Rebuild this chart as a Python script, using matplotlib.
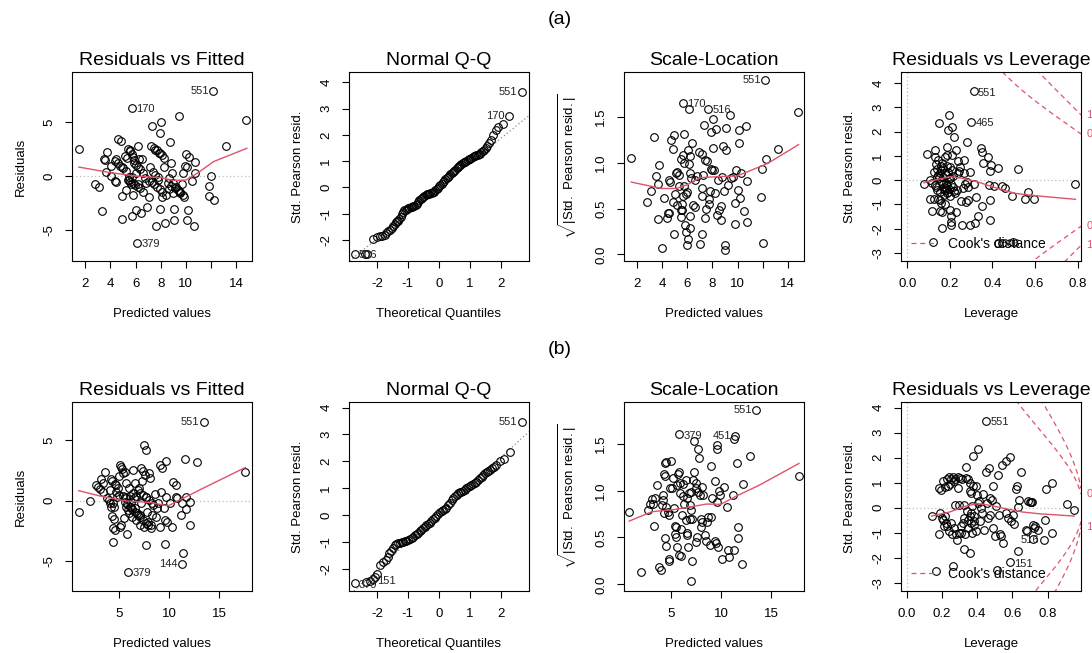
import numpy as np
import matplotlib
matplotlib.use("Agg")
from matplotlib import pyplot as plt
from matplotlib.lines import Line2D

plt.rcParams['font.family'] = ['Liberation Sans', 'DejaVu Sans']
plt.rcParams['mathtext.fontset'] = 'custom'
plt.rcParams['mathtext.rm'] = 'Liberation Sans'

RED = '#DF536B'
GREY = '#BEBEBE'

# ---------------- model (a) ----------------
fit_a_pts = [
    (1.47, 2.53), (2.74, -0.71), (3.09, -1.05), (3.30, -3.27), (3.49, 1.54), (3.56, 1.48),
    (3.72, 2.25), (3.67, 0.37), (4.07, 0.90), (4.02, 0.00), (4.39, -0.46), (4.47, 1.54),
    (4.47, -0.52), (4.60, 3.40), (4.84, 3.21), (4.92, 0.80), (4.89, -1.85), (4.92, -3.92),
    (5.13, 1.85), (5.29, 1.64), (5.26, -1.30), (5.40, 2.50), (5.53, 2.44), (5.47, -0.37),
    (5.61, -0.74), (5.71, -3.70), (5.77, -1.76), (5.69, 6.27), (5.85, 1.48), (5.90, 1.23),
    (6.00, -3.15), (6.11, -6.14), (6.19, 2.78), (6.22, -0.74), (6.38, 0.68), (6.45, -3.40),
    (6.59, -1.45), (6.53, 1.54), (6.90, -2.84), (7.04, -0.43), (7.17, 0.86), (7.04, -1.91),
    (7.33, 4.63), (7.22, 2.78), (7.43, 2.56), (7.57, 2.41), (7.62, -4.63), (7.75, -0.06),
    (7.84, 2.10), (7.97, 4.01), (8.02, 4.97), (7.97, -3.06), (8.13, -1.91), (8.23, 0.80),
    (8.29, 1.64), (8.34, -4.32), (8.55, -0.68), (8.63, -0.22), (8.74, 3.18), (8.84, 1.17),
    (8.90, 0.31), (8.98, -0.68), (9.06, -3.02), (9.08, -4.07), (8.95, -1.60), (9.24, -1.05),
    (9.43, 5.56), (9.56, -1.45), (9.72, -0.74), (9.77, 0.25), (9.98, 2.00), (9.96, 0.93),
    (10.09, 0.80), (10.14, -3.15), (10.09, -4.07), (10.22, 1.73), (10.46, -0.43),
    (10.62, -4.63), (10.70, 1.27), (10.70, 0.31), (11.84, -0.90), (11.87, -1.85),
    (12.03, 0.00), (12.24, -2.22), (12.16, 7.81), (13.19, 2.81), (14.81, 5.19),
    (5.40, -0.37), (5.58, -0.52), (5.79, -0.68), (5.98, -0.83), (6.16, -0.99), (6.38, -1.14),
    (5.45, -0.06), (5.71, -0.12), (6.00, 0.25), (7.30, -0.52), (7.49, -0.74), (7.70, -0.99),
    (7.92, -1.23), (8.10, -1.45), (9.16, -1.14), (9.35, -1.30), (9.56, -1.54), (9.77, -1.76),
    (4.39, 1.42), (4.57, 1.17), (4.79, 0.93), (5.00, 0.71), (5.21, 0.49), (7.70, 2.41),
    (7.92, 2.16), (8.13, 1.94),
    (5.55, 2.30), (5.68, 2.05), (5.80, 1.80), (6.05, 1.05), (6.20, 0.85), (6.30, 1.60),
    (6.60, 0.30), (6.75, -0.20), (6.85, -0.60), (7.40, 0.35), (7.55, 0.10), (7.80, -0.35),
    (8.40, -1.75), (8.65, -1.20), (8.80, -0.90), (9.85, -1.90), (9.45, -1.35),
]
fit_a_smooth_x = [1.47, 4.0, 6.0, 8.0, 9.0, 10.0, 10.9, 12.2, 14.85]
fit_a_smooth_y = [0.83, 0.31, 0.0, -0.15, -0.40, -0.37, 0.25, 1.33, 2.56]
fit_a_ids = [('551', 12.16, 7.81, 'left'), ('170', 5.69, 6.27, 'right'), ('379', 6.11, -6.14, 'right')]

qq_a_pts = [
    (-2.71, -2.53), (-2.39, -2.53), (-2.31, -2.53), (-2.12, -1.98), (-1.99, -1.90), (-1.90, -1.87),
    (-1.82, -1.85), (-1.75, -1.80), (-1.69, -1.73), (-1.63, -1.68), (-1.58, -1.62), (-1.52, -1.56),
    (-1.47, -1.48), (-1.43, -1.38), (-1.39, -1.31), (-1.35, -1.29), (-1.31, -1.27), (-1.27, -1.22),
    (-1.23, -1.12), (-1.19, -1.02), (-1.15, -0.93), (-1.11, -0.88), (-1.07, -0.86), (-1.03, -0.83),
    (-0.99, -0.80), (-0.95, -0.78), (-0.91, -0.76), (-0.87, -0.75), (-0.83, -0.73), (-0.79, -0.70),
    (-0.75, -0.67), (-0.71, -0.62), (-0.67, -0.56), (-0.63, -0.48), (-0.59, -0.43), (-0.55, -0.39),
    (-0.51, -0.35), (-0.47, -0.32), (-0.43, -0.30), (-0.39, -0.27), (-0.35, -0.25), (-0.31, -0.24),
    (-0.27, -0.22), (-0.23, -0.21), (-0.19, -0.19), (-0.15, -0.16), (-0.11, -0.12), (-0.07, -0.07),
    (-0.03, -0.01), (0.01, 0.04), (0.05, 0.08), (0.09, 0.14), (0.13, 0.20), (0.17, 0.25),
    (0.21, 0.30), (0.25, 0.35), (0.29, 0.40), (0.33, 0.45), (0.37, 0.50), (0.41, 0.55),
    (0.45, 0.59), (0.49, 0.63), (0.53, 0.68), (0.57, 0.72), (0.61, 0.77), (0.65, 0.81),
    (0.69, 0.85), (0.73, 0.88), (0.77, 0.91), (0.81, 0.95), (0.85, 0.98), (0.89, 1.01),
    (0.93, 1.04), (0.97, 1.07), (1.01, 1.09), (1.05, 1.12), (1.09, 1.15), (1.13, 1.18),
    (1.17, 1.20), (1.21, 1.22), (1.25, 1.24), (1.29, 1.26), (1.33, 1.29), (1.37, 1.33),
    (1.42, 1.37), (1.47, 1.42), (1.52, 1.50), (1.57, 1.57), (1.63, 1.70), (1.68, 1.82),
    (1.75, 2.00), (1.84, 2.19), (1.92, 2.32), (2.08, 2.42), (2.27, 2.73), (2.67, 3.65),
]
qq_a_line = (-0.05, 0.957)
qq_a_ids = [('551', 2.67, 3.65, 'left'), ('170', 2.27, 2.73, 'left'), ('506', -2.71, -2.53, 'right')]

sl_a_pts = [
    (1.52, 1.05), (2.77, 0.574), (3.09, 0.69), (3.32, 1.28), (3.48, 0.856), (3.64, 0.765),
    (3.67, 0.39), (3.77, 0.98), (4.01, 0.073), (4.15, 0.615), (4.38, 0.40), (4.46, 0.457),
    (4.54, 0.457), (4.52, 0.81), (4.60, 0.79), (4.65, 1.25), (4.81, 1.15), (4.91, 1.31),
    (4.89, 0.227), (4.99, 0.66), (5.07, 0.885), (5.20, 0.896), (4.81, 0.567), (5.20, 0.54),
    (5.34, 0.75), (5.34, 0.87), (5.47, 1.04), (5.47, 0.41), (5.52, 0.48), (5.55, 0.49),
    (5.65, 1.09), (5.60, 0.545), (5.68, 0.637), (5.70, 1.00), (5.73, 1.32), (5.65, 1.66),
    (5.73, 0.75), (5.78, 0.32), (5.86, 0.245), (5.92, 0.655), (5.97, 0.68), (5.97, 0.106),
    (6.05, 0.165), (6.05, 1.14), (6.10, 1.59), (6.13, 0.99), (6.18, 0.42), (6.18, 0.29),
    (6.18, 1.07), (6.23, 0.885), (6.30, 0.84), (6.38, 1.22), (6.45, 0.54), (6.58, 0.81),
    (6.58, 0.52), (6.77, 0.856), (6.90, 1.12), (7.03, 0.11), (7.14, 0.227), (7.14, 0.72),
    (7.19, 1.10), (7.25, 0.867), (7.19, 0.637), (7.38, 0.40), (7.33, 1.415), (7.43, 1.03),
    (7.48, 0.50), (7.56, 1.017), (7.64, 1.59), (7.70, 0.61), (7.70, 0.545), (7.80, 0.69),
    (7.91, 0.93), (7.88, 1.34), (8.01, 1.475), (8.01, 1.16), (7.99, 0.92), (8.09, 0.92),
    (8.22, 0.666), (8.30, 1.376), (8.36, 0.435), (8.44, 0.81), (8.52, 0.48), (8.68, 0.53),
    (8.70, 0.373), (8.78, 0.85), (8.83, 1.18), (8.91, 0.69), (8.97, 0.10), (9.02, 0.05),
    (9.10, 1.38), (9.10, 1.14), (9.23, 0.757), (9.42, 1.526), (9.44, 0.838), (9.63, 0.849),
    (9.76, 0.33), (9.76, 0.556), (9.90, 0.92), (10.03, 0.70), (10.08, 1.36), (10.10, 1.22),
    (10.16, 0.62), (10.24, 0.885), (10.50, 0.47), (10.64, 1.405), (10.72, 0.80), (10.72, 0.35),
    (11.88, 0.626), (11.91, 0.937), (12.01, 0.128), (12.25, 1.043), (12.20, 1.91),
    (13.20, 1.15), (14.82, 1.555),
]
sl_a_smooth_x = [1.52, 3.93, 5.13, 6.05, 6.98, 8.44, 9.90, 10.82, 12.41, 14.87]
sl_a_smooth_y = [0.79, 0.72, 0.72, 0.765, 0.838, 0.85, 0.856, 0.904, 0.995, 1.20]
sl_a_ids = [('551', 12.20, 1.91, 'left'), ('170', 5.65, 1.66, 'right'), ('516', 7.64, 1.59, 'right')]

lev_a_pts = [
    (0.078, -0.17), (0.091, 1.07), (0.104, -0.79), (0.107, 0.00), (0.115, -0.11), (0.118, -1.28),
    (0.122, -2.55), (0.125, -0.76), (0.130, 1.24), (0.132, 0.96), (0.135, -0.28), (0.138, 0.11),
    (0.141, 0.44), (0.143, -0.76), (0.146, 0.83), (0.147, 2.34), (0.151, -0.83), (0.152, 0.28),
    (0.154, -1.28), (0.157, 0.58), (0.158, -0.96), (0.162, -1.31), (0.162, 0.69), (0.163, -1.97),
    (0.166, -0.18), (0.169, 0.14), (0.173, -0.28), (0.177, 0.94), (0.179, -1.00), (0.182, -0.32),
    (0.184, 1.05), (0.185, 1.35), (0.188, 0.58), (0.190, -0.48), (0.193, 2.07), (0.195, 2.70),
    (0.196, 0.03), (0.198, -1.24), (0.200, 0.55), (0.202, -0.66), (0.204, -1.72), (0.205, -1.49),
    (0.207, -1.86), (0.209, 1.05), (0.212, 2.18), (0.213, -0.28), (0.216, 0.17), (0.221, 1.76),
    (0.224, -0.55), (0.227, 1.24), (0.229, -1.31), (0.232, -0.39), (0.237, 0.80), (0.240, 0.28),
    (0.242, 0.39), (0.248, 0.55), (0.251, -0.87), (0.256, -1.86), (0.260, -0.34), (0.264, 0.83),
    (0.268, 0.28), (0.271, -0.17), (0.276, -0.90), (0.279, 1.56), (0.282, -0.07), (0.284, -0.83),
    (0.287, -0.28), (0.292, -1.86), (0.295, 0.34), (0.301, 2.41), (0.311, 3.65), (0.314, -0.18),
    (0.320, -1.75), (0.323, -0.69), (0.331, -1.49), (0.345, 1.34), (0.350, 1.17), (0.350, -1.06),
    (0.354, 0.72), (0.380, 0.94), (0.383, -0.21), (0.389, 0.39), (0.389, -0.80), (0.389, -1.63),
    (0.395, 0.62), (0.405, -0.23), (0.425, 0.51), (0.444, -0.25), (0.460, -0.34), (0.491, -0.66),
    (0.522, 0.44), (0.555, -0.76), (0.565, -0.48), (0.593, -0.76), (0.789, -0.18),
    (0.424, -2.58), (0.444, -2.58), (0.496, -2.55),
    (0.170, -0.35), (0.178, -0.42), (0.186, -0.20), (0.176, 0.30), (0.160, 0.40), (0.150, 0.10),
    (0.140, -0.40), (0.145, 0.20), (0.155, -0.50), (0.160, -0.05), (0.168, 0.50), (0.172, -0.60),
    (0.180, 0.20), (0.183, -0.10), (0.188, -0.55), (0.192, 0.35), (0.195, -0.35), (0.200, 0.10),
    (0.206, -0.15), (0.210, 0.40), (0.218, -0.45), (0.124, 0.35), (0.128, -0.20), (0.133, 0.65),
]
lev_a_smooth_x = [0.078, 0.154, 0.20, 0.26, 0.33, 0.39, 0.45, 0.51, 0.58, 0.66, 0.79]
lev_a_smooth_y = [-0.11, 0.055, 0.14, 0.07, -0.07, -0.25, -0.41, -0.55, -0.62, -0.69, -0.79]
lev_a_ids = [('551', 0.311, 3.65, 'right'), ('465', 0.301, 2.41, 'right'), ('506', 0.424, -2.58, 'right')]
lev_a_p = 32

# ---------------- model (b) ----------------
fit_b_pts = [
    (0.97, -0.92), (2.07, -0.03), (2.73, 1.31), (2.90, 1.17), (3.07, 0.94), (3.23, 1.78),
    (3.40, 1.44), (3.40, 0.75), (3.60, 2.42), (3.83, 0.19), (4.00, 0.06), (4.07, 0.89),
    (4.23, 1.81), (4.30, 1.67), (4.33, -1.28), (4.40, -0.22), (4.47, -0.50), (4.50, -1.56),
    (4.40, -2.31), (4.40, -3.42), (4.63, -2.44), (4.63, 1.39), (4.73, 1.31), (4.80, 0.33),
    (4.90, 1.08), (5.00, 2.06), (5.07, 2.97), (5.13, -2.17), (5.23, -2.03), (5.23, 2.78),
    (5.33, 2.61), (5.40, 0.39), (5.40, 2.28), (5.50, -1.47), (5.57, 0.33), (5.63, 2.42),
    (5.67, 1.50), (5.73, 0.19), (5.73, -0.50), (5.83, -2.78), (5.90, -0.78), (6.00, -1.06),
    (6.00, 1.03), (6.07, 0.39), (6.17, -0.08), (6.23, -0.50), (6.33, -1.33), (6.40, 2.56),
    (6.40, 0.61), (6.47, 0.19), (6.57, 1.44), (6.63, -0.64), (6.67, 0.39), (6.73, -1.61),
    (6.83, -1.06), (6.97, 1.03), (7.07, -2.03), (7.13, -1.19), (7.23, -0.22), (7.23, 2.69),
    (7.33, 1.67), (7.40, 2.50), (7.47, 4.64), (7.50, -2.17), (7.57, 2.14), (7.67, 0.33),
    (7.73, 4.22), (7.73, -3.69), (7.80, -0.92), (7.90, -1.75), (8.00, 2.28), (8.07, 1.86),
    (8.17, -2.03), (8.23, -2.31), (8.30, -1.19), (8.40, -0.36), (8.57, 0.56), (8.73, -1.33),
    (8.80, -0.64), (8.90, -0.22), (9.07, 2.97), (9.13, -2.17), (9.23, 0.75), (9.33, 2.69),
    (9.50, -0.64), (9.57, -3.56), (9.63, -1.61), (9.73, 3.33), (9.73, 0.28), (9.80, -1.75),
    (10.07, -0.22), (10.33, -2.22), (10.40, 1.58), (10.67, 1.31), (10.67, 0.28), (10.80, 0.19),
    (11.23, -1.19), (11.30, -0.22), (11.40, -4.36), (11.27, -5.22), (11.57, 3.44), (11.67, 0.33),
    (11.73, -0.72), (12.07, -0.08), (12.07, -2.03), (12.83, 3.17), (13.47, 6.56), (5.93, -5.92),
    (17.63, 2.36),
    (5.57, -0.08), (5.80, -0.28), (6.07, -0.50), (6.33, -0.72), (6.60, -0.94), (6.87, -1.17),
    (7.13, -1.39), (7.40, -1.61), (7.67, -1.83), (7.93, -2.06), (6.90, 0.89), (7.13, 0.67),
    (7.40, 0.47), (7.73, 0.28), (8.00, 0.06), (8.33, -0.22), (4.73, 0.75), (5.00, 0.47),
    (4.07, -0.22), (4.23, -0.50),
]
fit_b_smooth_x = [0.97, 3.07, 5.73, 8.07, 9.90, 11.40, 13.40, 17.63]
fit_b_smooth_y = [0.83, 0.39, -0.03, -0.14, -0.44, 0.19, 1.03, 2.75]
fit_b_ids = [('551', 13.47, 6.56, 'left'), ('379', 5.93, -5.92, 'right'), ('144', 11.27, -5.22, 'left')]

qq_b_pts = [
    (-2.71, -2.55), (-2.35, -2.49), (-2.23, -2.45), (-2.12, -2.37), (-2.05, -2.30), (-1.99, -2.20),
    (-1.90, -1.87), (-1.80, -1.74), (-1.71, -1.68), (-1.65, -1.55), (-1.60, -1.40), (-1.53, -1.33),
    (-1.47, -1.22), (-1.42, -1.12), (-1.37, -1.09), (-1.31, -1.06), (-1.25, -1.04), (-1.20, -1.02),
    (-1.15, -0.99), (-1.10, -0.97), (-1.05, -0.95), (-0.99, -0.93), (-0.94, -0.89), (-0.88, -0.85),
    (-0.83, -0.80), (-0.77, -0.75), (-0.72, -0.70), (-0.67, -0.66), (-0.62, -0.60), (-0.56, -0.54),
    (-0.51, -0.49), (-0.45, -0.44), (-0.40, -0.39), (-0.34, -0.34), (-0.29, -0.28), (-0.24, -0.22),
    (-0.19, -0.16), (-0.13, -0.10), (-0.08, -0.03), (-0.02, 0.04), (0.03, 0.10), (0.09, 0.15),
    (0.14, 0.19), (0.19, 0.22), (0.24, 0.28), (0.30, 0.37), (0.35, 0.46), (0.41, 0.56),
    (0.46, 0.64), (0.52, 0.71), (0.57, 0.76), (0.62, 0.81), (0.68, 0.84), (0.73, 0.87),
    (0.78, 0.90), (0.84, 0.93), (0.89, 0.99), (0.95, 1.06), (1.00, 1.09), (1.05, 1.12),
    (1.10, 1.15), (1.16, 1.18), (1.21, 1.24), (1.27, 1.31), (1.32, 1.37), (1.38, 1.43),
    (1.43, 1.50), (1.48, 1.56), (1.54, 1.60), (1.59, 1.64), (1.65, 1.69), (1.70, 1.74),
    (1.77, 1.80), (1.84, 1.87), (1.97, 2.03), (2.11, 2.08), (2.29, 2.33), (2.67, 3.46),
]
qq_b_line = (0.05, 1.05)
qq_b_ids = [('551', 2.67, 3.46, 'left'), ('379', -2.71, -2.55, 'right'), ('151', -2.12, -2.42, 'right')]

sl_b_pts = [
    (0.82, 0.77), (1.97, 0.13), (2.68, 0.79), (2.91, 0.86), (3.08, 0.91), (3.18, 0.86),
    (3.35, 0.92), (3.32, 0.625), (3.59, 1.06), (3.82, 0.18), (3.96, 0.157), (4.09, 0.85),
    (4.16, 0.95), (4.23, 0.90), (4.26, 1.175), (4.36, 1.16), (4.33, 0.76), (4.36, 1.29),
    (4.53, 1.31), (4.43, 0.49), (4.46, 0.41), (4.50, 0.83), (4.70, 0.775), (4.76, 0.275),
    (4.83, 0.25), (4.83, 0.74), (4.93, 1.025), (5.00, 1.32), (5.10, 1.025), (5.17, 1.13),
    (5.27, 0.82), (5.37, 0.62), (5.44, 0.54), (5.50, 0.50), (5.54, 0.614), (5.61, 1.06),
    (5.64, 0.40), (5.71, 1.18), (5.77, 1.20), (5.77, 0.31), (5.84, 1.60), (5.87, 1.08),
    (5.94, 0.97), (6.01, 0.30), (5.98, 0.59), (6.10, 0.74), (6.21, 0.94), (6.21, 1.07),
    (6.31, 0.86), (6.45, 1.11), (6.45, 0.69), (6.55, 0.55), (6.62, 0.525), (6.62, 0.92),
    (6.72, 0.40), (6.78, 0.97), (6.85, 0.85), (6.95, 0.99), (6.89, 0.70), (6.99, 0.79),
    (7.05, 0.70), (7.12, 0.25), (6.95, 0.04), (7.19, 1.11), (7.29, 1.20), (7.29, 1.525),
    (7.46, 1.025), (7.46, 0.45), (7.52, 1.08), (7.63, 0.51), (7.69, 0.99), (7.73, 1.44),
    (7.80, 1.35), (7.86, 0.95), (7.96, 0.61), (7.96, 0.70), (8.06, 1.04), (8.13, 0.67),
    (8.20, 0.95), (8.40, 0.525), (8.47, 0.46), (8.64, 0.67), (8.74, 0.72), (8.87, 0.42),
    (8.97, 0.72), (9.04, 1.26), (9.07, 0.92), (9.38, 1.10), (9.41, 0.46), (9.48, 0.446),
    (9.55, 1.49), (9.65, 1.44), (9.65, 0.88), (9.75, 0.40), (9.81, 1.00), (9.88, 0.95),
    (10.15, 0.275), (10.32, 1.04), (10.56, 0.83), (10.66, 0.37), (10.82, 0.29), (11.23, 0.95),
    (11.26, 0.37), (11.26, 1.55), (11.40, 1.58), (11.57, 1.29), (11.67, 0.614), (11.70, 0.49),
    (12.10, 0.22), (12.17, 1.07), (12.91, 1.375), (13.52, 1.865), (17.79, 1.157),
]
sl_b_smooth_x = [0.82, 3.08, 5.44, 7.12, 8.54, 9.98, 11.50, 13.86, 17.79]
sl_b_smooth_y = [0.675, 0.775, 0.80, 0.83, 0.857, 0.854, 0.94, 1.06, 1.29]
sl_b_ids = [('551', 13.52, 1.865, 'left'), ('379', 5.84, 1.60, 'right'), ('451', 11.40, 1.58, 'left')]

lev_b_pts = [
    (0.142, -0.31), (0.167, -2.54), (0.182, 0.80), (0.182, -1.03), (0.190, -0.20), (0.195, 0.71),
    (0.201, -0.40), (0.205, -0.47), (0.209, 1.07), (0.214, -0.74), (0.216, 0.84), (0.220, -0.33),
    (0.224, -0.60), (0.228, 1.16), (0.231, -0.74), (0.233, 0.87), (0.239, 1.23), (0.243, -0.94),
    (0.247, 0.94), (0.252, 1.16), (0.252, -0.60), (0.258, -1.03), (0.262, 1.24), (0.266, -2.34),
    (0.268, -0.80), (0.271, 1.07), (0.277, 1.16), (0.277, 0.13), (0.281, -1.03), (0.287, -1.30),
    (0.290, 0.80), (0.294, 1.24), (0.296, -1.00), (0.300, 0.13), (0.304, 1.20), (0.306, -0.74),
    (0.309, -1.00), (0.315, 1.14), (0.319, -0.60), (0.323, 0.13), (0.324, -1.65), (0.328, -0.40),
    (0.332, -1.03), (0.338, 1.63), (0.338, 1.20), (0.342, -0.13), (0.347, 1.16), (0.349, -0.80),
    (0.351, -0.47), (0.357, 0.67), (0.357, -0.33), (0.361, -1.81), (0.362, 1.00), (0.364, -0.60),
    (0.366, -0.20), (0.368, 0.60), (0.370, 0.07), (0.372, -1.00), (0.376, 2.07), (0.376, 0.87),
    (0.380, -0.31), (0.381, -0.54), (0.385, -0.67), (0.391, -0.94), (0.395, 0.87), (0.400, 0.50),
    (0.404, 2.34), (0.406, 0.20), (0.410, 0.27), (0.417, -0.54), (0.423, 0.00), (0.429, -0.20),
    (0.433, 0.54), (0.442, -0.90), (0.448, 1.43), (0.452, 3.48), (0.455, 0.20), (0.461, -0.40),
    (0.465, 1.57), (0.471, -0.27), (0.476, 0.40), (0.486, 0.33), (0.490, 0.87), (0.493, -0.80),
    (0.499, -1.14), (0.505, 0.07), (0.512, -2.48), (0.518, 1.30), (0.524, -0.27), (0.528, -1.03),
    (0.537, -1.14), (0.543, 1.70), (0.546, -1.41), (0.562, -0.20), (0.565, 1.87), (0.575, -0.40),
    (0.588, 2.01), (0.588, -2.18), (0.594, -0.54), (0.603, -0.27), (0.607, -0.63), (0.622, 0.74),
    (0.626, 0.87), (0.632, -1.71), (0.632, 0.04), (0.638, 0.33), (0.650, 1.43), (0.675, -0.90),
    (0.683, -0.94), (0.689, 0.29), (0.698, 0.23), (0.708, 0.24), (0.713, 0.24), (0.717, -0.67),
    (0.721, -0.80), (0.727, -0.74), (0.717, -1.23), (0.746, -0.87), (0.778, -1.30), (0.784, -0.50),
    (0.789, 0.76), (0.824, 1.00), (0.825, -1.00), (0.909, 0.17), (0.951, -0.09),
]
lev_b_smooth_x = [0.142, 0.243, 0.338, 0.404, 0.471, 0.565, 0.66, 0.755, 0.951]
lev_b_smooth_y = [-0.33, -0.17, 0.07, 0.17, 0.10, -0.04, -0.17, -0.24, -0.33]
lev_b_ids = [('551', 0.452, 3.48, 'right'), ('516', 0.778, -1.30, 'left'), ('151', 0.588, -2.18, 'right')]
lev_b_p = 60


def style_axes(ax, title, xlabel, ylabel, xlim, ylim, xticks, xticklabels, yticks, yticklabels):
    ax.set_xlim(xlim)
    ax.set_ylim(ylim)
    ax.set_xticks(xticks)
    ax.set_xticklabels(xticklabels)
    ax.set_yticks(yticks)
    ax.set_yticklabels(yticklabels, rotation=90, va='center')
    ax.tick_params(direction='out', length=5, width=0.8, pad=7, labelsize=9.5)
    for s in ax.spines.values():
        s.set_linewidth(0.8)
    ax.set_title(title, fontsize=14, pad=5)
    ax.set_xlabel(xlabel, fontsize=9.5, labelpad=13)
    ax.set_ylabel(ylabel, fontsize=9.5, labelpad=12)


def draw_points(ax, pts):
    x, y = np.array(pts).T
    ax.plot(x, y, 'o', mfc='none', mec='black', ms=5.5, mew=0.8, ls='none', zorder=3)


def draw_ids(ax, ids):
    for text, x, y, side in ids:
        if side == 'right':
            ax.annotate(text, (x, y), xytext=(3, -1), textcoords='offset points',
                        ha='left', va='center', fontsize=8, color='#222222')
        else:
            ax.annotate(text, (x, y), xytext=(-3, 0), textcoords='offset points',
                        ha='right', va='center', fontsize=8, color='#222222')


def fitted_panel(ax, pts, sx, sy, ids, xlim, ylim, xticks, xticklabels):
    ax.axhline(0, color=GREY, ls=(0, (1, 2)), lw=0.9)
    draw_points(ax, pts)
    ax.plot(sx, sy, color=RED, lw=1, zorder=4)
    draw_ids(ax, ids)
    style_axes(ax, 'Residuals vs Fitted', 'Predicted values', 'Residuals', xlim, ylim,
               xticks, xticklabels, [-5, 0, 5], ['-5', '0', '5'])


def qq_panel(ax, pts, line, ids, ylim):
    ax.axline((0, line[0]), slope=line[1], color='#888888', ls=(0, (1, 2)), lw=0.9)
    draw_points(ax, pts)
    draw_ids(ax, ids)
    style_axes(ax, 'Normal Q-Q', 'Theoretical Quantiles', 'Std. Pearson resid.',
               (-2.9, 2.91), ylim, [-2, -1, 0, 1, 2], ['-2', '-1', '0', '1', '2'],
               [-2, -1, 0, 1, 2, 3, 4], ['-2', '-1', '0', '1', '2', '3', '4'])


def scale_panel(ax, pts, sx, sy, ids, xlim, ylim, xticks, xticklabels):
    draw_points(ax, pts)
    ax.plot(sx, sy, color=RED, lw=1, zorder=4)
    draw_ids(ax, ids)
    style_axes(ax, 'Scale-Location', 'Predicted values',
               r'$\sqrt{|\mathrm{Std.\ Pearson\ resid.}|}$', xlim, ylim,
               xticks, xticklabels, [0.0, 0.5, 1.0, 1.5], ['0.0', '0.5', '1.0', '1.5'])


def leverage_panel(ax, pts, sx, sy, ids, p, xlim, ylim):
    ax.axhline(0, color=GREY, ls=(0, (1, 2)), lw=0.9)
    ax.axvline(0, color=GREY, ls=(0, (1, 2)), lw=0.9)
    draw_points(ax, pts)
    ax.plot(sx, sy, color=RED, lw=1, zorder=4)
    draw_ids(ax, ids)
    levels = [0.5, 1]
    h = np.linspace(0.01, xlim[1], 200)
    for lev in levels:
        c = np.sqrt(lev * p * (1 - h) / h)
        ax.plot(h, c, color=RED, ls=(0, (4, 3)), lw=0.9)
        ax.plot(h, -c, color=RED, ls=(0, (4, 3)), lw=0.9)
    xmax = min(0.99, xlim[1])
    aty = [np.sqrt(lev * p * (1 - xmax) / xmax) for lev in levels]
    at = [-aty[1], -aty[0], aty[0], aty[1]]
    labs = ['1', '0.5', '0.5', '1']
    last = None
    span = ylim[1] - ylim[0]
    for yv, lab in zip(at, labs):
        if last is not None and (yv - last) / span < 0.05:
            continue
        ax.annotate(lab, (1.0, yv), xycoords=('axes fraction', 'data'), xytext=(4, 0),
                    textcoords='offset points', ha='left', va='center', fontsize=8,
                    color=RED, annotation_clip=False)
        last = yv
    handle = Line2D([], [], color=RED, ls=(0, (4, 3)), lw=0.9)
    ax.legend([handle], ["Cook's distance"], loc='lower left', frameon=False, fontsize=10,
              handlelength=1.9, borderaxespad=0.3, borderpad=0.4, handletextpad=0.8)
    style_axes(ax, 'Residuals vs Leverage', 'Leverage', 'Std. Pearson resid.', xlim, ylim,
               [0.0, 0.2, 0.4, 0.6, 0.8], ['0.0', '0.2', '0.4', '0.6', '0.8'],
               [-3, -2, -1, 0, 1, 2, 3, 4], ['-3', '-2', '-1', '0', '1', '2', '3', '4'])


fig = plt.figure(figsize=(10.92, 6.53), dpi=100)
lefts = [72, 349, 624, 901]
w = 180 / 1092
h_ax = 189 / 653
axes_a = [fig.add_axes([l / 1092, 1 - 261 / 653, w, h_ax]) for l in lefts]
axes_b = [fig.add_axes([l / 1092, 1 - 591 / 653, w, h_ax]) for l in lefts]

fitted_panel(axes_a[0], fit_a_pts, fit_a_smooth_x, fit_a_smooth_y, fit_a_ids, (0.94, 15.26), (-7.84, 9.6),
             [2, 4, 6, 8, 10, 12, 14], ['2', '4', '6', '8', '10', '', '14'])
qq_panel(axes_a[1], qq_a_pts, qq_a_line, qq_a_ids, (-2.81, 4.4))
scale_panel(axes_a[2], sl_a_pts, sl_a_smooth_x, sl_a_smooth_y, sl_a_ids, (0.94, 15.3), (-0.073, 1.994),
            [2, 4, 6, 8, 10, 12, 14], ['2', '4', '6', '8', '10', '', '14'])
leverage_panel(axes_a[3], lev_a_pts, lev_a_smooth_x, lev_a_smooth_y, lev_a_ids, lev_a_p, (-0.03, 0.816), (-3.33, 4.45))

fitted_panel(axes_b[0], fit_b_pts, fit_b_smooth_x, fit_b_smooth_y, fit_b_ids, (0.3, 18.3), (-7.5, 8.19),
             [5, 10, 15], ['5', '10', '15'])
qq_panel(axes_b[1], qq_b_pts, qq_b_line, qq_b_ids, (-2.83, 4.21))
scale_panel(axes_b[2], sl_b_pts, sl_b_smooth_x, sl_b_smooth_y, sl_b_ids, (0.3, 18.3), (-0.071, 1.946),
            [5, 10, 15], ['5', '10', '15'])
leverage_panel(axes_b[3], lev_b_pts, lev_b_smooth_x, lev_b_smooth_y, lev_b_ids, lev_b_p, (-0.032, 0.99), (-3.32, 4.22))

fig.text(560 / 1092, 1 - 20 / 653, '(a)', ha='center', va='center', fontsize=14)
fig.text(560 / 1092, 1 - 350 / 653, '(b)', ha='center', va='center', fontsize=14)

fig.savefig('out.png', dpi=100)
